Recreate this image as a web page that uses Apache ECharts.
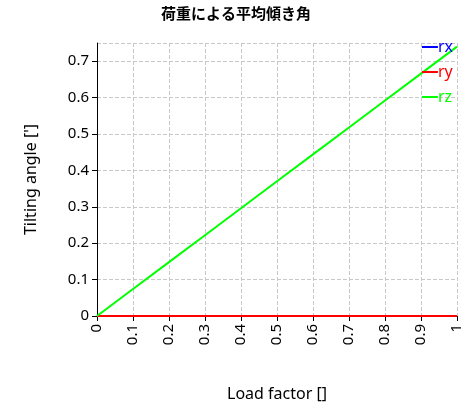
<!DOCTYPE html>
<html>
<head>
<meta charset="utf-8">
<script src="https://cdn.jsdelivr.net/npm/echarts@6/dist/echarts.min.js"></script>
<style>html,body{margin:0;padding:0;background:#fff}#c{width:472px;height:413px}</style>
</head>
<body>
<div id="c"></div>
<script>
var loadFactor = [0, 0.1, 0.2, 0.3, 0.4, 0.5, 0.6, 0.7, 0.8, 0.9, 1];
var rx = [0, 0, 0, 0, 0, 0, 0, 0, 0, 0, 0];
var ry = [0, 0, 0, 0, 0, 0, 0, 0, 0, 0, 0];
var rz = [0, 0.074, 0.148, 0.222, 0.296, 0.37, 0.444, 0.518, 0.592, 0.666, 0.74];
var names = ['rx', 'ry', 'rz'];
var colors = ['#0000ff', '#ff0000', '#00ff00'];

function pairs(ys) {
  return loadFactor.map(function (x, i) { return [x, ys[i]]; });
}

var chart = echarts.init(document.getElementById('c'));
var font = 'Noto Sans';
chart.setOption({
  animation: false,
  title: {
    text: '荷重による平均傾き角', left: 'center', top: 1,
    textStyle: { fontFamily: 'Noto Sans CJK JP', fontSize: 15, fontWeight: 'bold', color: '#000' }
  },
  legend: {
    orient: 'vertical', right: 14, top: 34, itemGap: 9,
    itemWidth: 16, itemHeight: 2, icon: 'rect',
    data: names.map(function (n, i) {
      return { name: n, textStyle: { color: colors[i] } };
    }),
    textStyle: { fontFamily: font, fontSize: 16, padding: [0, 0, 0, -5] }
  },
  grid: { left: 97, right: 15, top: 43, bottom: 97 },
  xAxis: {
    type: 'value', min: 0, max: 1, interval: 0.1,
    name: 'Load factor []', nameLocation: 'middle', nameGap: 70,
    nameTextStyle: { fontFamily: font, fontSize: 16, color: '#000' },
    axisLine: { lineStyle: { color: '#000' } },
    axisTick: { show: true, lineStyle: { color: '#000' } },
    axisLabel: { rotate: 90, fontFamily: font, fontSize: 15, color: '#000' },
    splitLine: { show: true, lineStyle: { type: 'dashed', color: '#c8c8c8' } }
  },
  yAxis: {
    type: 'value', min: 0, max: 0.75, interval: 0.1,
    name: "Tilting angle [']", nameLocation: 'middle', nameGap: 58,
    nameTextStyle: { fontFamily: font, fontSize: 16, color: '#000' },
    axisLine: { show: true, lineStyle: { color: '#000' } },
    axisTick: { show: true, lineStyle: { color: '#000' } },
    axisLabel: { fontFamily: font, fontSize: 15, color: '#000', showMaxLabel: false,
      formatter: function (v) { return Math.round(v * 10) / 10 + ''; } },
    splitLine: { show: true, lineStyle: { type: 'dashed', color: '#c8c8c8' } }
  },
  series: [rx, ry, rz].map(function (d, i) {
    return {
      name: names[i], type: 'line', data: pairs(d), showSymbol: false,
      lineStyle: { color: colors[i], width: 2 }, itemStyle: { color: colors[i] }
    };
  })
});
</script>
</body>
</html>
